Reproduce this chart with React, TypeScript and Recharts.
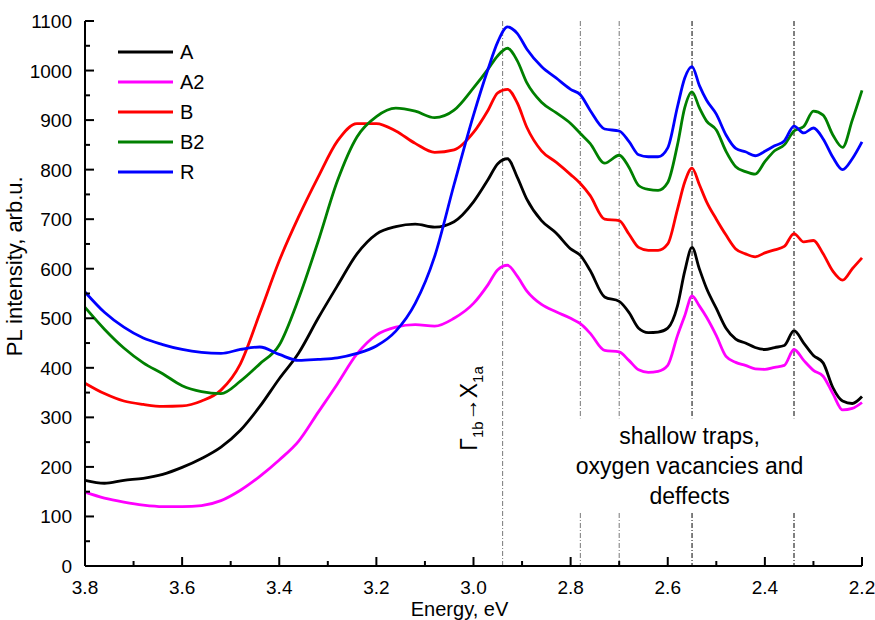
import React from 'react';
import { LineChart, Line, XAxis, YAxis, Legend, ReferenceLine, ReferenceDot } from 'recharts';

// photon energy, eV (x axis runs from high to low energy)
const energy = [
  3.8, 3.76, 3.72, 3.68, 3.64, 3.6, 3.56, 3.52, 3.48, 3.44, 3.4, 3.36, 3.32, 3.28, 3.24, 3.2, 3.16, 3.12, 3.08, 3.04,
  3.0, 2.97, 2.95, 2.93, 2.91, 2.89, 2.86, 2.83, 2.8, 2.78, 2.76, 2.73, 2.7, 2.68, 2.66, 2.64, 2.62, 2.6, 2.58, 2.565,
  2.55, 2.535, 2.52, 2.5, 2.48, 2.46, 2.44, 2.42, 2.4, 2.38, 2.36, 2.34, 2.32, 2.3, 2.28, 2.26, 2.24, 2.22, 2.2,
];

// PL intensity per sample, arb.u.
const sampleA = [
  173, 167, 173, 177, 185, 199, 217, 240, 274, 322, 378, 430, 500, 566, 630, 670, 685, 690, 684, 695,
  735, 780, 812, 822, 785, 740, 697, 672, 640, 627, 597, 543, 534, 512, 480, 471, 472, 480, 525, 595,
  643, 600, 560, 520, 480, 458, 450, 441, 437, 441, 445, 475, 450, 425, 410, 360, 333, 328, 342,
];
const sampleA2 = [
  149, 137, 129, 123, 120, 120, 122, 132, 153, 181, 214, 252, 310, 368, 428, 466, 482, 487, 484, 500,
  530, 568, 598, 607, 585, 555, 528, 513, 500, 489, 470, 435, 432, 415, 396, 391, 393, 405, 465, 505,
  545, 525, 502, 465, 423, 411, 405, 398, 397, 401, 405, 437, 415, 395, 383, 348, 315, 318, 330,
];
const sampleB = [
  369, 348, 333, 326, 322, 323, 333, 355, 408, 510, 616, 705, 785, 858, 893, 893, 878, 853, 835, 840,
  875, 920, 955, 962, 935, 885, 838, 815, 790, 772, 748, 700, 697, 670, 643, 637, 637, 650, 720, 775,
  803, 770, 735, 700, 668, 640, 630, 624, 632, 638, 645, 671, 654, 657, 630, 595, 577, 600, 622,
];
const sampleB2 = [
  522, 478, 440, 410, 388, 364, 352, 348, 373, 408, 446, 540, 655, 778, 866, 907, 924, 918, 905, 920,
  965, 1003, 1030, 1045, 1020, 975, 936, 915, 893, 873, 853, 813, 829, 805, 768, 760, 758, 774, 850, 925,
  957, 925, 898, 880, 837, 806, 796, 791, 816, 838, 850, 878, 887, 918, 910, 870, 845, 900, 960,
];
const sampleR = [
  553, 512, 482, 460, 447, 437, 431, 429, 437, 442, 427, 415, 417, 420, 429, 444, 474, 530, 625, 770,
  910, 1003, 1058, 1088, 1075, 1043, 1008, 985, 962, 951, 920, 882, 878, 857, 830, 826, 826, 844, 927, 985,
  1008, 970, 940, 912, 870, 843, 836, 828, 837, 848, 858, 888, 874, 884, 862, 825, 800, 822, 856,
];

const xTicks = [3.8, 3.7, 3.6, 3.5, 3.4, 3.3, 3.2, 3.1, 3.0, 2.9, 2.8, 2.7, 2.6, 2.5, 2.4, 2.3, 2.2];
const yTicks = [0, 50, 100, 150, 200, 250, 300, 350, 400, 450, 500, 550, 600, 650, 700, 750, 800, 850, 900, 950, 1000, 1050, 1100];

// transition energies marked with dash-dot lines
const gammaLine = 2.94;
const trapLines = [2.78, 2.7, 2.55, 2.34];
const trapText = ['shallow traps,', 'oxygen vacancies and', 'deffects'];

const series = [
  { key: 'A', data: sampleA, color: '#000000' },
  { key: 'A2', data: sampleA2, color: '#ff00ff' },
  { key: 'B', data: sampleB, color: '#ff0000' },
  { key: 'B2', data: sampleB2, color: '#008000' },
  { key: 'R', data: sampleR, color: '#0000ff' },
];

const rows = energy.map((e, i) => {
  const row: Record<string, number> = { energy: e };
  series.forEach((s) => (row[s.key] = s.data[i]));
  return row;
});

const FONT = '"Liberation Sans", Arial, Helvetica, sans-serif';

function EnergyTick({ x, y, payload }: any) {
  const v = payload.value as number;
  const major = Math.round(v * 10) % 2 === 0;
  return (
    <g>
      <line x1={x} x2={x} y1={y} y2={y - (major ? 9 : 5)} stroke="#000" strokeWidth={2} />
      {major && (
        <text x={x} y={y + 28} textAnchor="middle" fontSize={19} fill="#000">
          {v.toFixed(1)}
        </text>
      )}
    </g>
  );
}

function IntensityTick({ x, y, payload }: any) {
  const v = payload.value as number;
  const major = v % 100 === 0;
  return (
    <g>
      <line x1={x} x2={x + (major ? 9 : 5)} y1={y} y2={y} stroke="#000" strokeWidth={2} />
      {major && (
        <text x={x - 13} y={y + 7} textAnchor="end" fontSize={19} fill="#000">
          {v}
        </text>
      )}
    </g>
  );
}

function LegendBox() {
  return (
    <svg width={110} height={150}>
      {series.map((s, i) => (
        <g key={s.key}>
          <line x1={0} x2={55} y1={15 + i * 30} y2={15 + i * 30} stroke={s.color} strokeWidth={3} />
          <text x={62} y={22 + i * 30} fontSize={20} fill="#000">
            {s.key}
          </text>
        </g>
      ))}
    </svg>
  );
}

const yLabel = ({ viewBox }: any) => {
  const cx = viewBox.x + 22;
  const cy = viewBox.y + viewBox.height * 0.45;
  return (
    <text x={cx} y={cy} transform={`rotate(-90, ${cx}, ${cy})`} textAnchor="middle" fontSize={22} fill="#000">
      PL intensity, arb.u.
    </text>
  );
};

const xLabel = ({ viewBox }: any) => (
  <text x={viewBox.x + viewBox.width / 2 - 14} y={viewBox.y + 50} textAnchor="middle" fontSize={20} fill="#000">
    Energy, eV
  </text>
);

const gammaLabel = ({ viewBox }: any) => {
  const cx = viewBox.x;
  const cy = viewBox.y;
  return (
    <text x={cx} y={cy} transform={`rotate(-90, ${cx}, ${cy})`} textAnchor="middle" fontSize={23} fill="#000">
      Γ<tspan dy={6} fontSize={15}>1b</tspan>
      <tspan dy={-6}>→X</tspan>
      <tspan dy={6} fontSize={15}>1a</tspan>
    </text>
  );
};

const trapLabel = ({ viewBox }: any) => (
  <text textAnchor="middle" fontSize={23} fill="#000">
    {trapText.map((t, i) => (
      <tspan key={t} x={viewBox.x} y={viewBox.y + i * 30}>
        {t}
      </tspan>
    ))}
  </text>
);

export default function App() {
  return (
    <div style={{ position: 'absolute', left: 0, top: 0, fontFamily: FONT, background: '#fff' }}>
      <LineChart width={875} height={620} data={rows} margin={{ top: 21, right: 13, bottom: 0, left: 0 }}>
        <XAxis
          dataKey="energy"
          type="number"
          domain={[2.2, 3.8]}
          reversed
          ticks={xTicks}
          interval={0}
          tick={<EnergyTick />}
          tickLine={false}
          tickSize={0}
          tickMargin={0}
          height={54}
          axisLine={{ stroke: '#000', strokeWidth: 2 }}
          label={xLabel}
        />
        <XAxis
          xAxisId="top"
          orientation="top"
          dataKey="energy"
          type="number"
          domain={[2.2, 3.8]}
          reversed
          height={0}
          tick={false}
          tickLine={false}
          axisLine={{ stroke: '#000', strokeWidth: 2 }}
        />
        <YAxis
          type="number"
          domain={[0, 1100]}
          ticks={yTicks}
          interval={0}
          tick={<IntensityTick />}
          tickLine={false}
          tickSize={0}
          tickMargin={0}
          width={85}
          axisLine={{ stroke: '#000', strokeWidth: 2 }}
          label={yLabel}
        />
        <YAxis
          yAxisId="right"
          orientation="right"
          domain={[0, 1100]}
          width={0}
          tick={false}
          tickLine={false}
          axisLine={{ stroke: '#000', strokeWidth: 2 }}
        />
        <Legend
          layout="vertical"
          align="center"
          verticalAlign="middle"
          content={<LegendBox />}
          wrapperStyle={{ left: 118, top: 37, width: 110 }}
        />

        <ReferenceLine x={gammaLine} stroke="#777" strokeWidth={1} strokeDasharray="5 2 1 2" />
        {trapLines.map((e, i) => (
          <ReferenceLine
            key={`top-${e}`}
            segment={[{ x: e, y: 1100 }, { x: e, y: 298 }]}
            stroke={i < 2 ? '#777' : '#000'}
            strokeWidth={1}
            strokeDasharray="5 2 1 2"
          />
        ))}
        {trapLines.map((e, i) => (
          <ReferenceLine
            key={`bottom-${e}`}
            segment={[{ x: e, y: 107 }, { x: e, y: 0 }]}
            stroke={i < 2 ? '#777' : '#000'}
            strokeWidth={1}
            strokeDasharray="5 2 1 2"
          />
        ))}
        <ReferenceDot x={2.993} y={318} r={0} stroke="none" fill="none" label={gammaLabel} />
        <ReferenceDot x={2.555} y={247} r={0} stroke="none" fill="none" label={trapLabel} />

        {series.map((s) => (
          <Line
            key={s.key}
            type="monotone"
            dataKey={s.key}
            stroke={s.color}
            strokeWidth={2.8}
            dot={false}
            activeDot={false}
            isAnimationActive={false}
          />
        ))}
      </LineChart>
    </div>
  );
}
